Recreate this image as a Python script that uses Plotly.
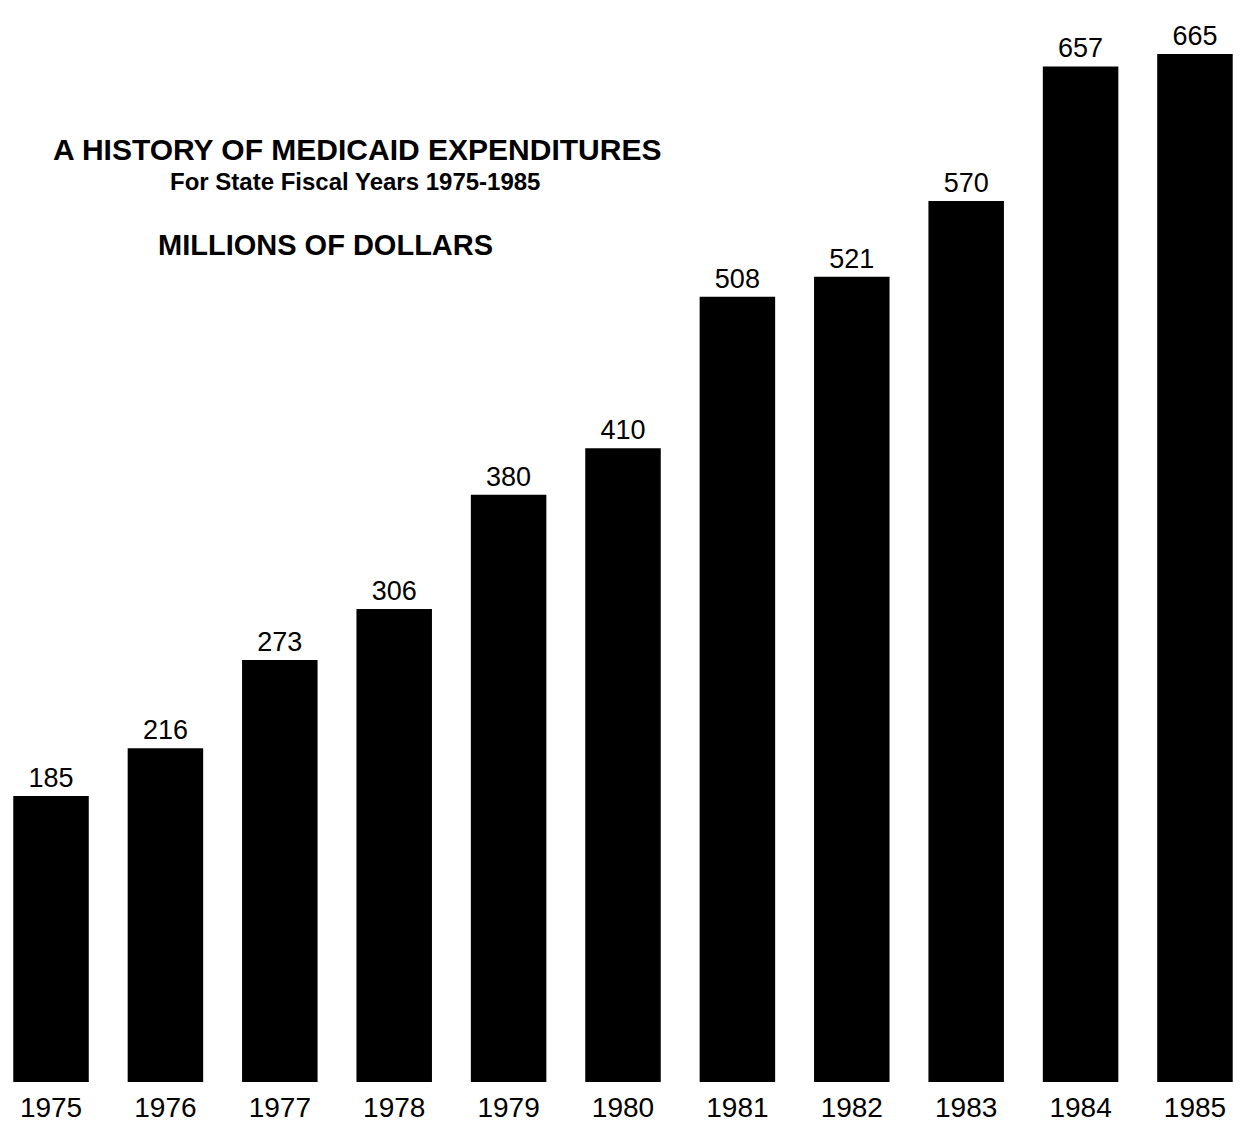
import plotly.graph_objects as go

# State fiscal years and Medicaid expenditures (millions of dollars)
years = [1975, 1976, 1977, 1978, 1979, 1980, 1981, 1982, 1983, 1984, 1985]
expenditures = [185, 216, 273, 306, 380, 410, 508, 521, 570, 657, 665]
year_labels = [str(y) for y in years]

FONT = "Liberation Sans, Arial, Helvetica, sans-serif"

fig = go.Figure(
    go.Bar(
        x=years,
        y=expenditures,
        width=0.66,
        marker=dict(color="#000000", line=dict(width=0)),
        text=[str(v) for v in expenditures],
        textposition="outside",
        textfont=dict(family=FONT, size=27, color="#000000"),
        cliponaxis=False,
    )
)

fig.update_layout(
    width=1254,
    height=1148,
    margin=dict(l=0, r=0, t=0, b=66),
    paper_bgcolor="white",
    plot_bgcolor="white",
    showlegend=False,
    uniformtext=dict(minsize=27, mode="show"),
    xaxis=dict(
        range=[1974.554, 1985.516],
        tickvals=years,
        ticktext=year_labels,
        tickfont=dict(family=FONT, size=28, color="#000000"),
        showgrid=False,
        zeroline=False,
        showline=False,
        ticks="",
        ticklabelstandoff=6,
    ),
    yaxis=dict(
        range=[0, 700],
        visible=False,
        showgrid=False,
        zeroline=False,
    ),
    annotations=[
        dict(
            text="<b>A HISTORY OF MEDICAID EXPENDITURES</b>",
            xref="paper", yref="paper",
            x=357 / 1254, y=1 - 150 / 1082,
            xanchor="center", yanchor="middle",
            showarrow=False,
            font=dict(family=FONT, size=30, color="#000000"),
        ),
        dict(
            text="<b>For State Fiscal Years 1975-1985</b>",
            xref="paper", yref="paper",
            x=355 / 1254, y=1 - 181 / 1082,
            xanchor="center", yanchor="middle",
            showarrow=False,
            font=dict(family=FONT, size=24, color="#000000"),
        ),
        dict(
            text="<b>MILLIONS OF DOLLARS</b>",
            xref="paper", yref="paper",
            x=325 / 1254, y=1 - 245 / 1082,
            xanchor="center", yanchor="middle",
            showarrow=False,
            font=dict(family=FONT, size=29, color="#000000"),
        ),
    ],
)

fig.write_html("out.html")
